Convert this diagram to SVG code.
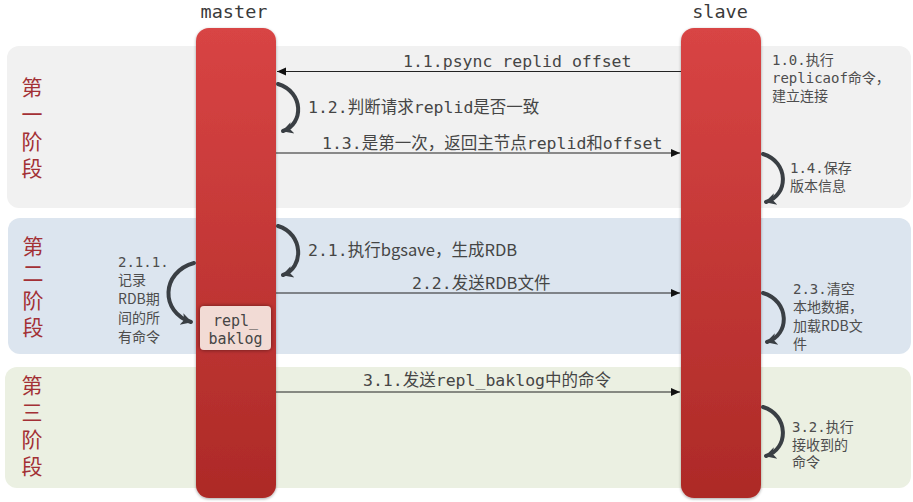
<svg xmlns="http://www.w3.org/2000/svg" width="913" height="502" viewBox="0 0 913 502">
  <defs>
    <linearGradient id="barGrad" x1="0" y1="0" x2="0" y2="1">
      <stop offset="0" stop-color="#d84444"/>
      <stop offset="1" stop-color="#ad2a27"/>
    </linearGradient>
    <filter id="shadow" x="-20%" y="-5%" width="140%" height="110%">
      <feGaussianBlur in="SourceAlpha" stdDeviation="1.5"/>
      <feOffset dx="0" dy="1" result="b"/>
      <feComponentTransfer><feFuncA type="linear" slope="0.35"/></feComponentTransfer>
      <feMerge><feMergeNode/><feMergeNode in="SourceGraphic"/></feMerge>
    </filter>
    <filter id="glow" x="-20%" y="-20%" width="140%" height="140%">
      <feGaussianBlur in="SourceAlpha" stdDeviation="2"/>
      <feComponentTransfer><feFuncA type="linear" slope="0.5"/></feComponentTransfer>
      <feMerge><feMergeNode/><feMergeNode in="SourceGraphic"/></feMerge>
    </filter>
    <marker id="arrow" markerUnits="userSpaceOnUse" markerWidth="10" markerHeight="10" refX="9" refY="5" orient="auto">
      <path d="M0,1 L9,5 L0,9 Z" fill="#111"/>
    </marker>
    <marker id="curveHead" markerUnits="userSpaceOnUse" markerWidth="14" markerHeight="14" refX="10" refY="7" orient="auto">
      <path d="M0,1 L11,7 L0,13 L3,7 Z" fill="#3a3f44"/>
    </marker>
    <style>
      .mono { font-family: "DejaVu Sans Mono", "Liberation Mono", "Noto Sans CJK SC", monospace; fill: #454545; }
      .sans { font-family: "Noto Sans CJK SC", "Noto Sans", sans-serif; }
      .big { font-size: 16.5px; }
      .small { font-size: 14px; fill: #4d4d4d; }
      .title { font-size: 18.5px; fill: #3a3a3a; }
      .phase { font-family: "Noto Sans CJK SC", "Noto Sans", sans-serif; font-size: 21px; fill: #a33035; writing-mode: vertical-rl; letter-spacing: 6px; }
      .line { stroke: #222; stroke-width: 1.2; fill: none; marker-end: url(#arrow); }
      .curve { stroke: #3a3f44; stroke-width: 4; fill: none; stroke-linecap: round; marker-end: url(#curveHead); }
    </style>
  </defs>

  <rect width="913" height="502" fill="#ffffff"/>

  <g id="phase1">
    <rect x="7" y="46" width="904" height="162" rx="12" fill="#f1f1f1"/>
    <text class="phase" x="32" y="77">第一阶段</text>
  </g>
  <g id="phase2">
    <rect x="8" y="218" width="903" height="136" rx="12" fill="#dce5ef"/>
    <text class="phase" x="33" y="236">第二阶段</text>
  </g>
  <g id="phase3">
    <rect x="5" y="367" width="906" height="121" rx="12" fill="#ebf0e2"/>
    <text class="phase" x="32" y="375">第三阶段</text>
  </g>

  <g id="master">
    <text class="mono title" x="234" y="18" text-anchor="middle">master</text>
    <rect x="196" y="28" width="80" height="470" rx="13" fill="url(#barGrad)" filter="url(#shadow)"/>
  </g>
  <g id="slave">
    <text class="mono title" x="720" y="18" text-anchor="middle">slave</text>
    <rect x="681" y="28" width="80" height="470" rx="13" fill="url(#barGrad)" filter="url(#shadow)"/>
  </g>

  <g id="repl_baklog">
    <rect x="200" y="306" width="71" height="44" rx="4" fill="#f2dbd5" filter="url(#glow)"/>
    <text class="mono" font-size="15" x="235.5" y="326" text-anchor="middle">repl_</text>
    <text class="mono" font-size="15" x="235.5" y="344" text-anchor="middle">baklog</text>
  </g>

  <g id="connectors">
    <line class="line" x1="681" y1="71.5" x2="277" y2="71.5"/>
    <path class="curve" d="M278,84 C304,92 304,124 283,131"/>
    <line class="line" x1="276" y1="153" x2="680" y2="153"/>
    <path class="curve" d="M763,154 C789,162 789,195 766,202"/>

    <path class="curve" d="M278,226 C304,234 304,268 283,275"/>
    <line class="line" x1="276" y1="293" x2="680" y2="293"/>
    <path class="curve" d="M194,263 C161,272 160,312 191,322"/>
    <path class="curve" d="M763,293 C790,301 790,335 767,342"/>

    <line class="line" x1="276" y1="392" x2="680" y2="392"/>
    <path class="curve" d="M763,407 C789,415 789,449 766,456"/>
  </g>

  <g id="labels">
    <text class="mono big" x="403" y="67">1.1.psync replid offset</text>
    <text class="mono big" x="308" y="113">1.2.判断请求replid是否一致</text>
    <text class="mono big" x="322" y="149">1.3.是第一次，返回主节点replid和offset</text>
    <text class="mono small" x="772" y="65">1.0.执行</text>
    <text class="mono small" x="772" y="83">replicaof命令，</text>
    <text class="mono small" x="772" y="101">建立连接</text>
    <text class="mono small" x="790" y="173">1.4.保存</text>
    <text class="mono small" x="790" y="191">版本信息</text>

    <text class="mono big" x="308" y="256">2.1.执行<tspan class="sans">bgsave</tspan>，生成<tspan class="sans">RDB</tspan></text>
    <text class="mono big" x="412" y="289">2.2.发送<tspan class="sans">RDB</tspan>文件</text>
    <text class="mono small" x="118" y="267">2.1.1.</text>
    <text class="mono small" x="118" y="285">记录</text>
    <text class="mono small" x="118" y="304"><tspan class="sans">RDB</tspan>期</text>
    <text class="mono small" x="118" y="323">间的所</text>
    <text class="mono small" x="118" y="342">有命令</text>
    <text class="mono small" x="793" y="294">2.3.清空</text>
    <text class="mono small" x="793" y="312">本地数据，</text>
    <text class="mono small" x="793" y="331">加载<tspan class="sans">RDB</tspan>文</text>
    <text class="mono small" x="793" y="349">件</text>

    <text class="mono big" x="363" y="386">3.1.发送repl_baklog中的命令</text>
    <text class="mono small" x="792" y="432">3.2.执行</text>
    <text class="mono small" x="792" y="450">接收到的</text>
    <text class="mono small" x="792" y="467">命令</text>
  </g>
</svg>
